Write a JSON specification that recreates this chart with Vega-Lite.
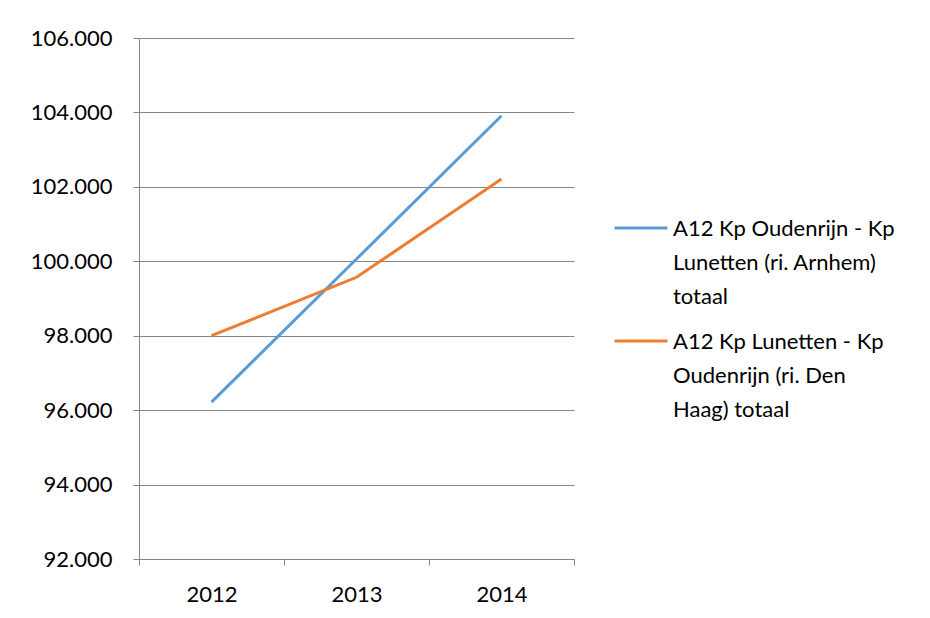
{
  "$schema": "https://vega.github.io/schema/vega-lite/v6.json",
  "width": 435,
  "height": 521,
  "padding": {"left": 30, "top": 27, "right": 5, "bottom": 5},
  "background": "white",
  "config": {
    "font": "Lato",
    "view": {"stroke": null}
  },
  "data": {
    "values": [
      {"jaar": "2012", "reeks": "A12 Kp Oudenrijn - Kp Lunetten (ri. Arnhem) totaal", "waarde": 96215},
      {"jaar": "2013", "reeks": "A12 Kp Oudenrijn - Kp Lunetten (ri. Arnhem) totaal", "waarde": 100060},
      {"jaar": "2014", "reeks": "A12 Kp Oudenrijn - Kp Lunetten (ri. Arnhem) totaal", "waarde": 103910},
      {"jaar": "2012", "reeks": "A12 Kp Lunetten - Kp Oudenrijn (ri. Den Haag) totaal", "waarde": 98000},
      {"jaar": "2013", "reeks": "A12 Kp Lunetten - Kp Oudenrijn (ri. Den Haag) totaal", "waarde": 99570},
      {"jaar": "2014", "reeks": "A12 Kp Lunetten - Kp Oudenrijn (ri. Den Haag) totaal", "waarde": 102210}
    ]
  },
  "mark": {"type": "line", "strokeWidth": 3},
  "encoding": {
    "x": {
      "field": "jaar",
      "type": "ordinal",
      "scale": {"type": "band", "paddingInner": 0, "paddingOuter": 0},
      "axis": {
        "title": null,
        "labelAngle": 0,
        "tickBand": "extent",
        "grid": false,
        "domainColor": "#868686",
        "tickColor": "#868686",
        "tickSize": 6,
        "labelPadding": 19,
        "labelFontSize": 22,
        "labelColor": "black"
      }
    },
    "y": {
      "field": "waarde",
      "type": "quantitative",
      "scale": {"domain": [92000, 106000], "nice": false, "zero": false},
      "axis": {
        "title": null,
        "values": [92000, 94000, 96000, 98000, 100000, 102000, 104000, 106000],
        "labelExpr": "replace(format(datum.value, ',.0f'), ',', '.')",
        "grid": true,
        "gridColor": "#868686",
        "domainColor": "#868686",
        "tickColor": "#868686",
        "tickSize": 6,
        "labelPadding": 21,
        "labelFontSize": 22,
        "labelColor": "black"
      }
    },
    "color": {
      "field": "reeks",
      "type": "nominal",
      "sort": [
        "A12 Kp Oudenrijn - Kp Lunetten (ri. Arnhem) totaal",
        "A12 Kp Lunetten - Kp Oudenrijn (ri. Den Haag) totaal"
      ],
      "scale": {"range": ["#5B9BD5", "#ED7D31"]},
      "legend": {
        "title": null,
        "orient": "none",
        "legendX": 474,
        "legendY": 162,
        "symbolType": "stroke",
        "symbolSize": 2800,
        "symbolStrokeWidth": 3,
        "labelFontSize": 22,
        "labelColor": "black",
        "labelLimit": 400,
        "labelOffset": 4,
        "labelBaseline": "alphabetic",
        "rowPadding": 5,
        "labelExpr": "datum.label == 'A12 Kp Oudenrijn - Kp Lunetten (ri. Arnhem) totaal' ? ['A12 Kp Oudenrijn - Kp', 'Lunetten (ri. Arnhem)', 'totaal'] : ['A12 Kp Lunetten - Kp', 'Oudenrijn (ri. Den', 'Haag) totaal']",
        "encode": {
          "labels": {"update": {"lineHeight": {"value": 34}, "dy": {"value": 8}}}
        }
      }
    }
  }
}
